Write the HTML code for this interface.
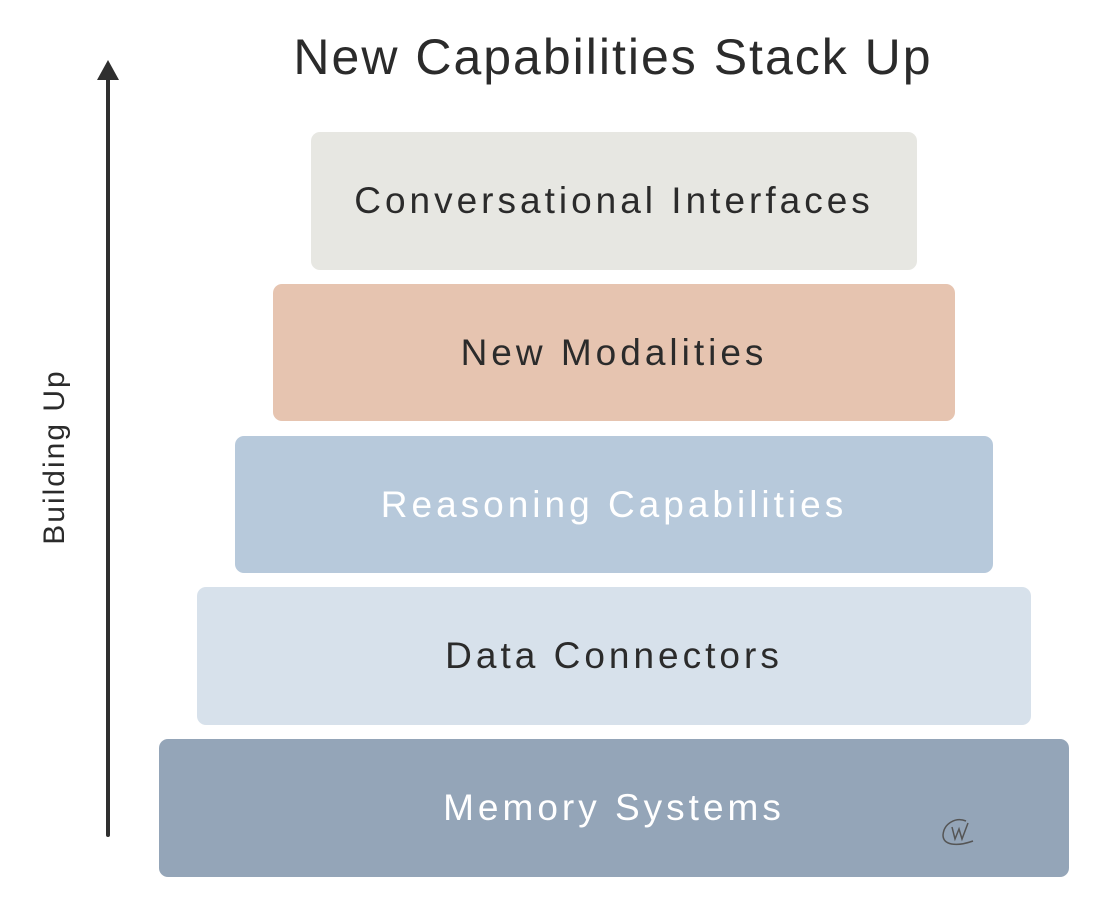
<!DOCTYPE html>
<html><head><meta charset="utf-8"><style>
html,body{margin:0;padding:0;background:#fff;}
body{width:1120px;height:912px;position:relative;overflow:hidden;font-family:"Liberation Sans",sans-serif;}
.b{position:absolute;border-radius:9px;display:flex;align-items:center;justify-content:center;font-size:37px;color:#2b2b2b;letter-spacing:4px;}
.t{position:absolute;left:0;width:1226px;top:28px;text-align:center;font-size:50px;color:#2b2b2b;letter-spacing:2px;}
.v{position:absolute;left:55px;top:457px;transform:translate(-50%,-50%) rotate(-90deg);font-size:30px;color:#2b2b2b;white-space:nowrap;letter-spacing:2px;}
</style></head><body>
<div class="t">New Capabilities Stack Up</div>
<svg style="position:absolute;left:0;top:0" width="1120" height="912">
<line x1="108" y1="835" x2="108" y2="74" stroke="#2f2f2f" stroke-width="4" stroke-linecap="round"/>
<polygon points="108,60 97,80 119,80" fill="#2f2f2f"/>
</svg>
<div class="v">Building Up</div>
<div class="b" style="left:311px;top:132px;width:606px;height:138px;background:#e7e7e2">Conversational Interfaces</div>
<div class="b" style="left:273px;top:284px;width:682px;height:137px;background:#e6c4b0">New Modalities</div>
<div class="b" style="left:235px;top:436px;width:758px;height:137px;background:#b7c9db;color:#fff">Reasoning Capabilities</div>
<div class="b" style="left:197px;top:587px;width:834px;height:138px;background:#d7e1eb">Data Connectors</div>
<div class="b" style="left:159px;top:739px;width:910px;height:138px;background:#94a5b8;color:#fff">Memory Systems</div>
<svg style="position:absolute;left:938px;top:815px" width="50" height="40">
<path d="M28 6 C18 2 6 8 5 20 C5 30 18 32 35 26" fill="none" stroke="#555" stroke-width="1.5"/>
<path d="M14 12 L17 24 L21 14 L24 24 L30 8" fill="none" stroke="#555" stroke-width="1.5"/>
</svg>
</body></html>
